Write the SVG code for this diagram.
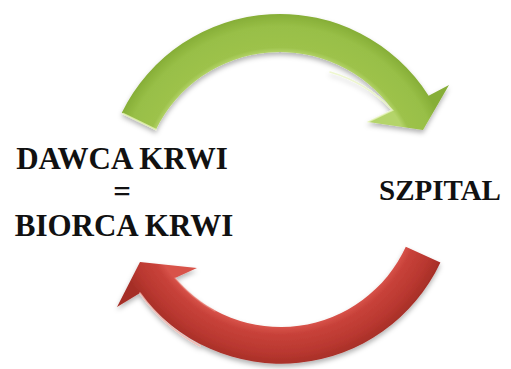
<svg xmlns="http://www.w3.org/2000/svg" width="511" height="369" viewBox="0 0 511 369">
  <style>
    .label { font-family: "Liberation Serif", "Times New Roman", "DejaVu Serif", serif; font-weight: bold; font-size: 31px; fill: #111; text-anchor: middle; }
    .rim { fill: none; stroke-width: 1.6; stroke-linecap: round; }
  </style>
  <defs>
    <filter id="shadow" x="-10%" y="-10%" width="120%" height="130%">
      <feDropShadow dx="0" dy="3" stdDeviation="2.5" flood-color="#000" flood-opacity="0.3"/>
    </filter>
    <radialGradient id="greenBody" gradientUnits="userSpaceOnUse" cx="280" cy="190" r="176">
      <stop offset="0.78" stop-color="#B4D46A"/>
      <stop offset="0.81" stop-color="#9DC24B"/>
      <stop offset="0.93" stop-color="#98BF47"/>
      <stop offset="1" stop-color="#86AE37"/>
    </radialGradient>
    <radialGradient id="redBody" gradientUnits="userSpaceOnUse" cx="280" cy="190" r="176">
      <stop offset="0.78" stop-color="#D8534A"/>
      <stop offset="0.82" stop-color="#C8423A"/>
      <stop offset="0.93" stop-color="#B8372F"/>
      <stop offset="1" stop-color="#A52E27"/>
    </radialGradient>
  </defs>

  <!-- connectors: two curved block arrows around a common centre (280,190) -->
  <g id="connectors">
    <g id="arrow-top" filter="url(#shadow)">
      <path fill="url(#greenBody)"
            d="M 121.8 112.8 A 176 176 0 0 1 428.6 95.7 L 449 85 L 423 130 L 368 122 L 392.6 110.2 A 138 138 0 0 0 156 129.5 Z"/>
      <path class="rim" stroke="#E4F2B0" opacity="0.8" d="M 156 129.5 L 123 113.5"/>
      <path class="rim" stroke="#E8F5BE" opacity="0.7" d="M 330 72 A 138 138 0 0 1 392.6 110.2 L 368 122"/>
    </g>
    <g id="arrow-bottom" filter="url(#shadow)">
      <path fill="url(#redBody)"
            d="M 440.4 262.4 A 176 176 0 0 1 140 293 L 117 307 L 140 262 L 197 268 L 175 278 A 138 138 0 0 0 405.8 246.8 Z"/>
      <path class="rim" stroke="#F3B3AA" opacity="0.75" d="M 140 293 A 176 176 0 0 0 200 346"/>
      <path class="rim" stroke="#EE9A90" opacity="0.5" d="M 175 278 A 138 138 0 0 0 215 311"/>
    </g>
  </g>

  <g id="node-donor">
    <text class="label" x="122" y="169">DAWCA KRWI</text>
    <text class="label" x="122" y="202">=</text>
    <text class="label" x="124" y="236">BIORCA KRWI</text>
  </g>

  <g id="node-hospital">
    <text class="label" x="440" y="200" style="font-size:29px">SZPITAL</text>
  </g>
</svg>
